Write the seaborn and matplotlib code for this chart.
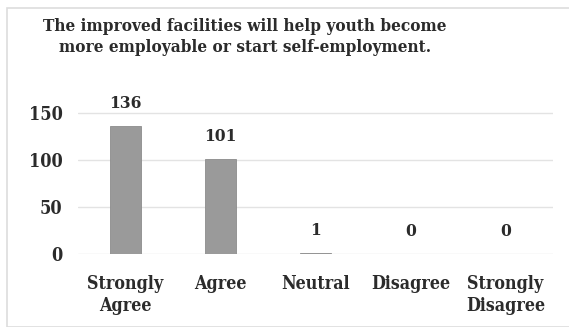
import matplotlib
matplotlib.use("Agg")
import matplotlib.pyplot as plt
import seaborn as sns
import pandas as pd
from matplotlib.patches import Rectangle

categories = ["Strongly\nAgree", "Agree", "Neutral", "Disagree", "Strongly\nDisagree"]
responses = [136, 101, 1, 0, 0]
yticks = [0, 50, 100, 150]
title = "The improved facilities will help youth become\nmore employable or start self-employment."

sns.set_theme(style="white")
plt.rcParams["font.family"] = ["DejaVu Serif"]
plt.rcParams["font.weight"] = "bold"
plt.rcParams["font.stretch"] = "condensed"

df = pd.DataFrame({"category": categories, "count": responses})

fig = plt.figure(figsize=(5.69, 3.27), dpi=100)
ax = fig.add_axes([78 / 569, (327 - 254) / 327, 475 / 569, (254 - 113) / 327 * 160 / 150])

sns.barplot(data=df, x="category", y="count", color="#9a9a9a", width=0.33,
            saturation=1, ax=ax, edgecolor="#8c8c8c", linewidth=0.6)

txt = "#2b2b2b"
ax.set_ylim(0, 160)
ax.set_xlim(-0.5, 4.5)
ax.set_yticks(yticks)
ax.set_yticklabels([str(t) for t in yticks], fontsize=13, color=txt)
ax.tick_params(axis="y", length=0, pad=11)
ax.tick_params(axis="x", length=0, pad=15)
for lab in ax.get_xticklabels():
    lab.set_fontsize(12.8)
    lab.set_color(txt)
    lab.set_linespacing(1.3)
ax.set_xlabel("")
ax.set_ylabel("")
ax.grid(axis="y", color="#e3e3e3", linewidth=1)
ax.set_axisbelow(True)
for s in ax.spines.values():
    s.set_visible(False)

for i, v in enumerate(responses):
    ax.annotate(str(v), (i, v), xytext=(0, 10), textcoords="offset points",
                ha="center", va="bottom", fontsize=12.5, color=txt)

fig.text(245 / 569, 1 - 37 / 327, title, ha="center", va="center",
         fontsize=12.3, color=txt, linespacing=1.3)

fig.patches.append(Rectangle((7 / 569, 0), 1, 1 - 8 / 327, transform=fig.transFigure,
                             fill=False, edgecolor="#dddddd", linewidth=1.2))

fig.savefig("out.png", dpi=100)
